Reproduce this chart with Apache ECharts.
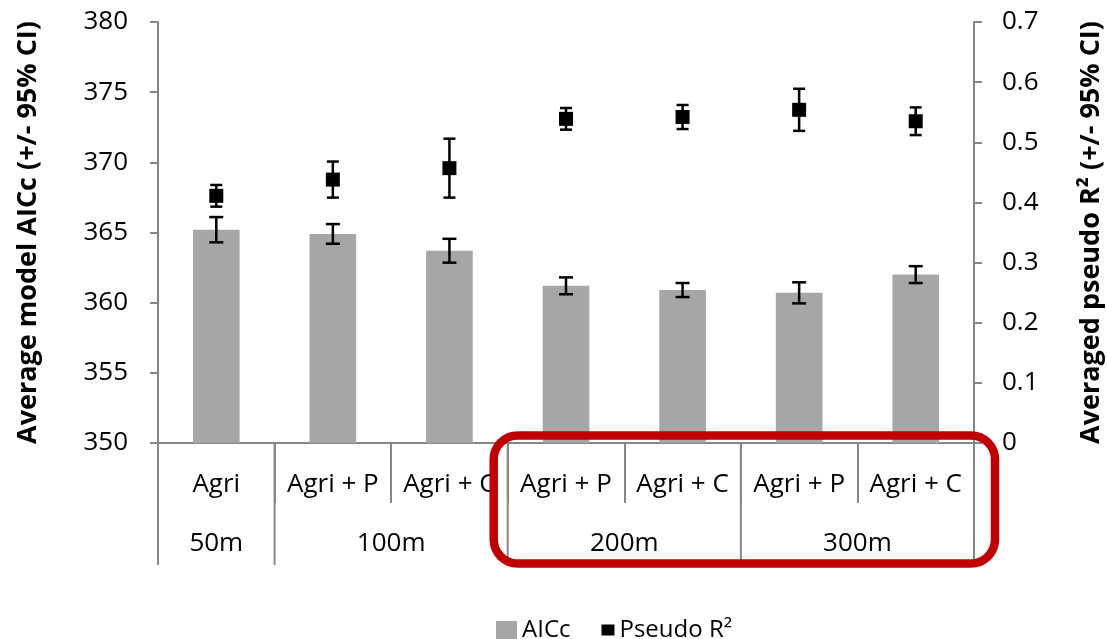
<!DOCTYPE html>
<html>
<head>
<meta charset="utf-8">
<script src="https://cdn.jsdelivr.net/npm/echarts@6/dist/echarts.min.js"></script>
<style>
html,body{margin:0;padding:0;background:#fff;}
#chart{width:1107px;height:639px;}
</style>
</head>
<body>
<div id="chart"></div>
<script>
// ---- data ----
var categories = ['Agri', 'Agri + P', 'Agri + C', 'Agri + P', 'Agri + C', 'Agri + P', 'Agri + C'];
var groupNames = ['50m', '100m', '200m', '300m'];
var groupStart = [0, 1, 3, 5];
var groupEnd = [0, 2, 4, 6];
var aicc = [365.2, 364.9, 363.7, 361.2, 360.9, 360.7, 362.0];
var aiccCI = [0.9, 0.7, 0.85, 0.6, 0.5, 0.75, 0.6];
var pseudoR2 = [0.411, 0.438, 0.457, 0.539, 0.542, 0.554, 0.535];
var pseudoR2CI = [0.018, 0.03, 0.049, 0.018, 0.02, 0.035, 0.023];
var highlight = [[3, 6]];

var FONT = "'Open Sans', 'Liberation Sans', sans-serif";
var AXIS_GRAY = '#868686';

function errData(vals, ci) {
  return vals.map(function (v, i) { return [i, v - ci[i], v + ci[i]]; });
}
function errRender(capHalf) {
  return function (params, api) {
    var lo = api.coord([api.value(0), api.value(1)]);
    var hi = api.coord([api.value(0), api.value(2)]);
    var st = { stroke: '#000', lineWidth: 2.5 };
    return {
      type: 'group',
      children: [
        { type: 'line', shape: { x1: lo[0], y1: lo[1], x2: hi[0], y2: hi[1] }, style: st },
        { type: 'line', shape: { x1: lo[0] - capHalf, y1: lo[1], x2: lo[0] + capHalf, y2: lo[1] }, style: st },
        { type: 'line', shape: { x1: hi[0] - capHalf, y1: hi[1], x2: hi[0] + capHalf, y2: hi[1] }, style: st }
      ]
    };
  };
}

var chart = echarts.init(document.getElementById('chart'), null, { renderer: 'canvas' });
var option = {
  animation: false,
  backgroundColor: '#fff',
  textStyle: { fontFamily: FONT },
  grid: { left: 158, right: 133, top: 22, bottom: 196, outerBoundsMode: 'none', containLabel: false },
  legend: {
    left: 491, top: 613,
    itemWidth: 21, itemHeight: 18, itemGap: 23,
    textStyle: { fontSize: 24, color: '#000', fontFamily: FONT },
    data: [
      { name: 'AICc', icon: 'rect' },
      { name: 'Pseudo R²', icon: 'path://M0,0M21,18M8,3.5h13v11h-13z' }
    ]
  },
  xAxis: {
    type: 'category',
    data: categories,
    axisLine: { lineStyle: { color: AXIS_GRAY, width: 2 } },
    axisTick: { show: true, length: 60, interval: 0, lineStyle: { color: AXIS_GRAY, width: 2 } },
    axisLabel: { interval: 0, margin: 27, fontSize: 26, lineHeight: 30, color: '#000', fontFamily: FONT, hideOverlap: false },
    splitLine: { show: false }
  },
  yAxis: [
    {
      type: 'value', min: 350, max: 380, interval: 5, position: 'left',
      name: 'Average model AICc (+/- 95% CI)', nameLocation: 'middle', nameRotate: 90, nameGap: 116,
      nameTextStyle: { fontSize: 27, fontWeight: 'bold', color: '#000', fontFamily: FONT },
      axisLine: { show: true, lineStyle: { color: AXIS_GRAY, width: 2 } },
      axisTick: { show: true, length: 8, lineStyle: { color: AXIS_GRAY, width: 2 } },
      axisLabel: { fontSize: 26, color: '#000', margin: 30, fontFamily: FONT },
      splitLine: { show: false }
    },
    {
      type: 'value', min: 0, max: 0.7, interval: 0.1, position: 'right',
      name: 'Averaged pseudo R² (+/- 95% CI)', nameLocation: 'middle', nameRotate: 90, nameGap: 104,
      nameTextStyle: { fontSize: 27, fontWeight: 'bold', color: '#000', fontFamily: FONT },
      axisLine: { show: true, lineStyle: { color: AXIS_GRAY, width: 2 } },
      axisTick: { show: true, length: 8, lineStyle: { color: AXIS_GRAY, width: 2 } },
      axisLabel: { fontSize: 26, color: '#000', margin: 28, fontFamily: FONT,
        formatter: function (v) { return v === 0 ? '0' : v.toFixed(1); } },
      splitLine: { show: false }
    }
  ],
  series: [
    {
      name: 'AICc', type: 'bar', data: aicc, yAxisIndex: 0, barWidth: '40%',
      itemStyle: { color: '#A6A6A6' }, z: 2
    },
    {
      name: 'AICc CI', type: 'custom', yAxisIndex: 0, data: errData(aicc, aiccCI),
      renderItem: errRender(7), z: 3, silent: true
    },
    {
      name: 'Pseudo R²', type: 'scatter', data: pseudoR2, yAxisIndex: 1,
      symbol: 'rect', symbolSize: 14, itemStyle: { color: '#000', opacity: 1 }, z: 4
    },
    {
      name: 'Pseudo R² CI', type: 'custom', yAxisIndex: 1, data: errData(pseudoR2, pseudoR2CI),
      renderItem: errRender(6), z: 5, silent: true
    },
    {
      name: 'groups', type: 'custom', yAxisIndex: 0, clip: false, silent: true, z: 6,
      data: groupStart.map(function (s, i) { return [s, groupEnd[i]]; }),
      renderItem: function (params, api) {
        var bw = api.size([1, 0])[0];
        var a = api.coord([api.value(0), 350]);
        var b = api.coord([api.value(1), 350]);
        var x0 = a[0] - bw / 2, x1 = b[0] + bw / 2, y0 = a[1];
        var st = { stroke: AXIS_GRAY, lineWidth: 2 };
        var children = [
          { type: 'line', shape: { x1: x0, y1: y0, x2: x0, y2: y0 + 122 }, style: st },
          { type: 'text', x: (x0 + x1) / 2, y: y0 + 101,
            style: { text: groupNames[params.dataIndex], fill: '#000', font: '26px ' + FONT,
              align: 'center', verticalAlign: 'middle' } }
        ];
        if (params.dataIndex === groupNames.length - 1) {
          children.push({ type: 'line', shape: { x1: x1, y1: y0, x2: x1, y2: y0 + 122 }, style: st });
        }
        return { type: 'group', children: children };
      }
    },
    {
      name: 'highlight', type: 'custom', yAxisIndex: 0, clip: false, silent: true, z: 10,
      data: highlight,
      renderItem: function (params, api) {
        var bw = api.size([1, 0])[0];
        var a = api.coord([api.value(0), 350]);
        var b = api.coord([api.value(1), 350]);
        var x0 = a[0] - bw / 2 - 14, x1 = b[0] + bw / 2 + 21;
        var y0 = a[1] - 7.5, y1 = a[1] + 120.5;
        return {
          type: 'rect',
          shape: { x: x0, y: y0, width: x1 - x0, height: y1 - y0, r: 24 },
          style: { fill: 'none', stroke: '#C00000', lineWidth: 8.5 }
        };
      }
    }
  ]
};
chart.setOption(option);
</script>
</body>
</html>
